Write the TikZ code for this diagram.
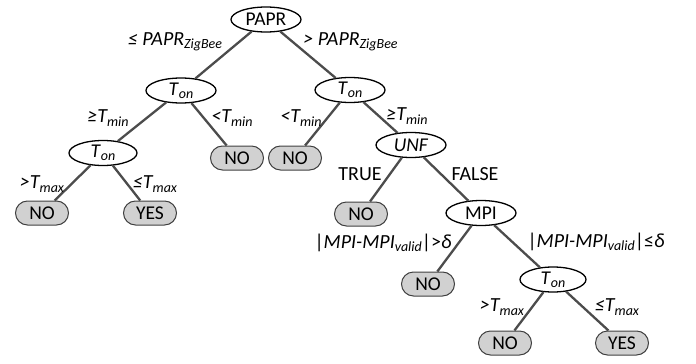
\documentclass[tikz,border=0pt]{standalone}
\usepackage{fontspec}
\setmainfont{Carlito}
\usetikzlibrary{shapes.geometric}
\newcommand\lsub[1]{\raisebox{-0.35ex}{\fontsize{14}{14}\selectfont #1}}
\begin{document}
\begin{tikzpicture}[x=1pt,y=-1pt,
 dnode/.style={ellipse,draw,line width=1.3pt,minimum width=70pt,minimum height=25pt,inner sep=0pt,font=\fontsize{19.5}{21}\selectfont,fill=white},
 leaf/.style={draw=black!75,fill=black!18,rounded corners=12pt,minimum width=53pt,minimum height=24pt,inner sep=0pt,line width=1pt,font=\fontsize{19.5}{21}\selectfont},
 edge/.style={draw=black!70,line width=2.3pt},
 lab/.style={inner sep=0pt,font=\fontsize{20}{22}\selectfont}]
\useasboundingbox (0,0) rectangle (696,364);
% decision nodes
\node[dnode] (papr) at (266,19.5) {PAPR};
\node[dnode] (ton1) at (181,90.5) {\textit{T}\lsub{\textit{on}}};
\node[dnode] (ton2) at (350,90) {\textit{T}\lsub{\textit{on}}};
\node[dnode,minimum width=68pt] (ton3) at (103,153) {\textit{T}\lsub{\textit{on}}};
\node[dnode] (unf) at (411,145) {\textit{UNF}};
\node[dnode] (mpi) at (481,213) {MPI};
\node[dnode,minimum width=66pt] (ton4) at (553,279.5) {\textit{T}\lsub{\textit{on}}};
% leaves
\node[leaf] (no1) at (42,213) {NO};
\node[leaf] (yes1) at (150,213) {YES};
\node[leaf] (no2) at (237,158) {NO};
\node[leaf] (no3) at (295,158) {NO};
\node[leaf] (no4) at (361,214) {NO};
\node[leaf] (no5) at (428,284) {NO};
\node[leaf] (no6) at (505,343) {NO};
\node[leaf] (yes2) at (622,343) {YES};
% edges
\draw[edge] (papr) -- (ton1);
\draw[edge] (papr) -- (ton2);
\draw[edge] (ton1) -- (ton3);
\draw[edge] (ton1) -- (no2);
\draw[edge] (ton3) -- (no1);
\draw[edge] (ton3) -- (yes1);
\draw[edge] (ton2) -- (no3);
\draw[edge] (ton2) -- (unf);
\draw[edge] (unf) -- (no4);
\draw[edge] (unf) -- (mpi);
\draw[edge] (mpi) -- (no5);
\draw[edge] (mpi) -- (ton4);
\draw[edge] (ton4) -- (no6);
\draw[edge] (ton4) -- (yes2);
% labels
\node[lab] (l1) at (175,41.5) {\itshape ≤ PAPR\lsub{ZigBee}};
\node[lab] (l2) at (350.5,41.5) {\itshape > PAPR\lsub{ZigBee}};
\node[lab] (l3) at (108,118) {\itshape ≥T\lsub{min}};
\node[lab] (l4) at (232,118) {\itshape <T\lsub{min}};
\node[lab] (l5) at (301,118) {\itshape <T\lsub{min}};
\node[lab] (l6) at (407,116) {\itshape ≥T\lsub{min}};
\node[lab] (l7) at (42,184) {\itshape >T\lsub{max}};
\node[lab] (l8) at (155,184) {\itshape ≤T\lsub{max}};
\node[lab] (l9) at (360,174) {TRUE};
\node[lab] (l10) at (475,174) {FALSE};
\node[lab] (l11) at (383,243) {|\textit{MPI-MPI}\lsub{\textit{valid}}|>\textit{δ}};
\node[lab] (l12) at (596,242) {|\textit{MPI-MPI}\lsub{\textit{valid}}|≤\textit{δ}};
\node[lab] (l13) at (502,307) {\itshape >T\lsub{max}};
\node[lab] (l14) at (617,307) {\itshape ≤T\lsub{max}};
\end{tikzpicture}
\end{document}
